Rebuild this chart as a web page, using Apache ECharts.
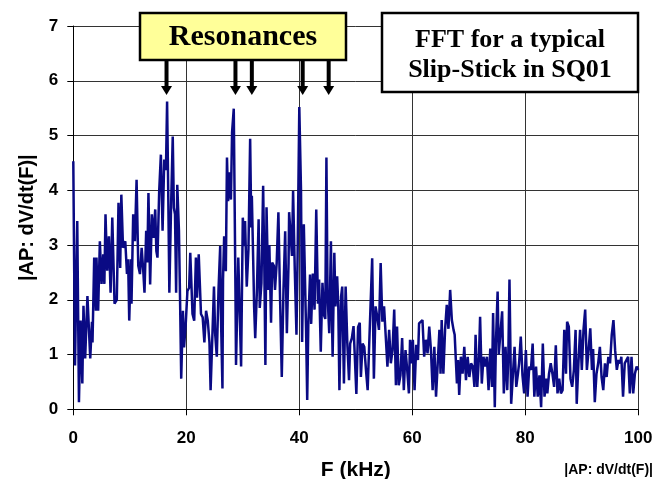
<!DOCTYPE html>
<html>
<head>
<meta charset="utf-8">
<script src="https://cdn.jsdelivr.net/npm/echarts@6/dist/echarts.min.js"></script>
<style>
  html, body { margin: 0; padding: 0; background: #fff; }
  #chart { width: 663px; height: 479px; }
</style>
</head>
<body>
<div id="chart"></div>
<script>
// frequency (kHz) and spectrum amplitude
const freqs = [
  0.0, 0.3, 0.7, 1.0, 1.3, 1.6, 1.8, 2.1, 2.5, 3.0, 3.3, 3.4, 3.7, 4.0, 4.1, 4.4, 4.7, 5.0, 5.3, 5.5,
  5.7, 6.0, 6.3, 6.6, 6.9, 7.3, 7.7, 8.0, 8.3, 8.5, 8.8, 9.2, 9.5, 9.7, 9.9, 10.2, 10.3, 10.6, 10.9, 11.2,
  11.5, 11.8, 12.1, 12.4, 12.6, 12.9, 13.1, 13.3, 13.6, 13.9, 14.2, 14.5, 14.7, 14.9, 15.2, 15.5, 15.8, 16.1, 16.4, 16.6,
  16.8, 17.0, 17.3, 17.6, 17.8, 18.0, 18.2, 18.4, 18.7, 18.9, 19.1, 19.4, 19.6, 19.9, 20.2, 20.5, 20.7, 21.1, 21.4, 21.7,
  21.9, 22.2, 22.6, 22.9, 23.2, 23.5, 23.8, 24.1, 24.3, 24.9, 25.1, 25.4, 25.7, 26.0, 26.1, 26.4, 26.5, 26.7, 27.0, 27.2,
  27.4, 27.7, 27.9, 28.1, 28.4, 28.7, 28.8, 29.2, 29.5, 29.7, 30.0, 30.3, 30.4, 30.7, 31.0, 31.3, 31.5, 31.6, 31.9, 32.0,
  32.2, 32.5, 32.8, 33.0, 33.3, 33.6, 33.8, 34.0, 34.2, 34.5, 34.7, 35.0, 35.2, 35.5, 35.7, 36.0, 36.3, 36.6, 36.9, 37.2,
  37.5, 37.8, 38.1, 38.2, 38.7, 38.9, 39.2, 39.5, 39.7, 40.0, 40.3, 40.5, 40.8, 41.2, 41.4, 41.6, 41.9, 42.1, 42.4, 42.7,
  43.0, 43.3, 43.5, 43.8, 44.1, 44.4, 44.6, 44.8, 45.0, 45.3, 45.6, 45.7, 45.9, 46.2, 46.4, 46.7, 46.9, 47.1, 47.4, 47.6,
  47.9, 48.2, 48.5, 48.8, 49.0, 49.3, 49.6, 49.9, 50.1, 50.4, 50.7, 50.9, 51.2, 51.5, 51.8, 52.1, 52.4, 52.7, 52.9, 53.2,
  53.5, 53.8, 54.1, 54.4, 54.7, 55.0, 55.3, 55.6, 55.9, 56.2, 56.5, 56.8, 57.1, 57.3, 57.6, 57.9, 58.2, 58.5, 58.8, 59.1,
  59.4, 59.6, 59.8, 60.1, 60.4, 60.7, 61.0, 61.2, 61.5, 61.8, 62.1, 62.4, 62.7, 63.0, 63.3, 63.6, 63.9, 64.2, 64.5, 64.8,
  65.0, 65.2, 65.5, 65.8, 66.1, 66.4, 66.7, 67.0, 67.3, 67.5, 67.9, 68.1, 68.3, 68.6, 68.9, 69.2, 69.5, 69.8, 70.1, 70.4,
  70.7, 71.0, 71.2, 71.5, 71.8, 72.0, 72.3, 72.6, 72.9, 73.2, 73.5, 73.8, 74.1, 74.3, 74.6, 74.8, 75.1, 75.3, 75.6, 75.9,
  76.2, 76.5, 76.8, 77.0, 77.2, 77.5, 77.8, 78.1, 78.4, 78.7, 78.9, 79.2, 79.5, 79.8, 80.1, 80.4, 80.7, 81.0, 81.3, 81.6,
  81.9, 82.2, 82.5, 82.8, 83.1, 83.4, 83.7, 83.9, 84.2, 84.5, 84.8, 85.1, 85.4, 85.7, 86.0, 86.3, 86.6, 86.9, 87.2, 87.4,
  87.7, 88.0, 88.3, 88.6, 88.9, 89.1, 89.4, 89.7, 90.0, 90.3, 90.6, 90.9, 91.2, 91.5, 91.8, 92.0, 92.3, 92.6, 92.9, 93.2,
  93.5, 93.8, 94.1, 94.4, 94.7, 95.0, 95.3, 95.6, 95.9, 96.2, 96.5, 96.8, 97.0, 97.3, 97.6, 97.9, 98.2, 98.5, 98.8, 99.1,
  99.4, 99.7, 100.0
];
const amps = [
  4.53, 0.80, 3.44, 0.13, 1.62, 0.47, 1.89, 0.93, 2.07, 0.93, 1.60, 1.22, 2.77, 1.80, 2.77, 1.80, 3.07, 2.29, 2.83, 2.29,
  3.56, 2.53, 3.16, 2.13, 3.50, 1.93, 2.00, 3.77, 2.58, 3.92, 2.95, 3.07, 2.47, 2.74, 1.62, 2.74, 1.93, 3.56, 3.07, 4.19,
  2.62, 2.47, 2.95, 2.50, 2.13, 3.26, 2.68, 3.95, 2.28, 3.56, 3.13, 3.65, 2.89, 2.77, 3.98, 4.65, 3.26, 4.56, 4.37, 5.62,
  3.98, 2.13, 3.68, 4.98, 3.68, 3.56, 2.13, 4.10, 3.26, 1.98, 0.56, 1.80, 1.13, 1.56, 2.16, 2.22, 2.86, 1.74, 1.62, 2.77,
  2.04, 2.83, 1.74, 1.68, 1.22, 1.80, 1.62, 1.22, 0.35, 2.24, 1.39, 0.96, 2.18, 2.98, 1.88, 0.38, 2.37, 3.16, 2.52, 4.60,
  3.80, 4.33, 3.83, 5.06, 5.49, 2.18, 0.81, 2.77, 1.58, 0.78, 3.50, 2.98, 3.44, 2.24, 2.92, 4.94, 3.32, 3.90, 2.43, 1.88,
  1.30, 2.18, 3.47, 1.85, 2.31, 4.08, 2.68, 0.81, 3.69, 2.18, 3.00, 1.58, 2.68, 2.62, 2.18, 2.68, 3.60, 2.00, 0.59, 2.18,
  3.25, 1.39, 2.68, 3.60, 2.80, 3.99, 2.55, 1.36, 2.80, 5.52, 4.02, 1.23, 3.38, 1.45, 0.17, 1.58, 2.46, 1.56, 2.48, 1.82,
  3.65, 1.93, 2.37, 1.05, 2.31, 1.71, 1.65, 4.60, 2.09, 1.39, 3.07, 2.10, 0.96, 2.86, 1.88, 2.43, 1.88, 0.35, 2.06, 2.24,
  0.47, 2.24, 1.20, 0.53, 1.20, 1.30, 1.52, 1.55, 0.28, 1.50, 1.58, 0.59, 1.20, 1.14, 0.72, 0.35, 1.27, 1.30, 2.76, 0.56,
  1.88, 1.69, 1.45, 2.67, 1.60, 1.88, 1.33, 0.78, 1.45, 0.84, 1.08, 1.82, 0.44, 1.51, 0.44, 0.62, 1.30, 0.35, 1.08, 0.72,
  0.29, 1.27, 0.84, 1.27, 0.35, 1.18, 0.90, 1.57, 1.60, 1.63, 0.96, 1.27, 1.02, 1.51, 1.08, 0.35, 1.14, 0.23, 0.84, 1.45,
  0.65, 1.63, 0.65, 1.45, 1.91, 1.47, 2.18, 1.63, 1.45, 1.36, 0.47, 0.90, 0.26, 0.96, 0.65, 1.14, 0.53, 0.96, 0.59, 0.84,
  0.78, 0.41, 1.36, 0.41, 0.96, 1.69, 0.47, 0.96, 0.78, 0.96, 0.35, 1.11, 0.41, 1.76, 0.04, 1.20, 2.15, 1.00, 1.02, 1.79,
  0.29, 1.14, 0.35, 1.00, 2.37, 0.10, 0.62, 1.14, 0.41, 0.65, 0.84, 1.33, 0.62, 0.29, 1.08, 0.23, 0.78, 0.72, 1.20, 0.23,
  0.78, 0.23, 0.62, 0.04, 1.20, 0.23, 0.56, 0.29, 0.65, 0.84, 0.65, 0.41, 1.17, 0.29, 0.56, 0.29, 0.35, 1.45, 0.65, 1.60,
  1.51, 0.56, 0.41, 0.72, 1.45, 0.10, 0.84, 1.45, 0.72, 1.45, 1.82, 0.72, 1.08, 1.48, 0.72, 1.10, 0.13, 0.65, 0.84, 1.14,
  0.59, 0.35, 0.84, 0.59, 0.96, 0.84, 1.36, 1.63, 1.08, 0.72, 0.90, 0.84, 0.96, 0.23, 0.84, 0.90, 0.96, 0.29, 0.96, 0.29,
  0.65, 0.78, 0.72
];
// resonance peaks pointed at by the arrows (kHz)
const resonances = [16.5, 28.7, 31.6, 40.6, 45.2];

const chart = echarts.init(document.getElementById('chart'));

const labelFont = { fontFamily: 'Liberation Sans', fontWeight: 'bold', color: '#000' };

chart.setOption({
  animation: false,
  grid: { left: 73.3, right: 24.7, top: 26, bottom: 69.7, outerBoundsMode: 'none', containLabel: false },
  xAxis: {
    type: 'value', min: 0, max: 100, interval: 20,
    name: 'F (kHz)', nameLocation: 'middle', nameGap: 50,
    nameTextStyle: { ...labelFont, fontSize: 21 },
    axisLine: { lineStyle: { color: '#000', width: 1 } },
    axisTick: { length: 6, lineStyle: { color: '#000' } },
    axisLabel: { ...labelFont, fontSize: 17, margin: 21 },
    splitLine: { lineStyle: { color: '#333', width: 1 } }
  },
  yAxis: {
    type: 'value', min: 0, max: 7, interval: 1,
    name: '|AP: dV/dt(F)|', nameLocation: 'middle', nameGap: 35,
    nameTextStyle: { ...labelFont, fontSize: 20 },
    axisLine: { show: true, lineStyle: { color: '#000', width: 1 } },
    axisTick: { show: true, length: 6, lineStyle: { color: '#000' } },
    axisLabel: { ...labelFont, fontSize: 17, margin: 15 },
    splitLine: { lineStyle: { color: '#333', width: 1 } }
  },
  series: [{
    type: 'line',
    data: freqs.map((f, i) => [f, amps[i]]),
    showSymbol: false,
    lineStyle: { color: '#0a0a84', width: 2.5 }
  }]
});

// annotation boxes and arrows
const graphic = [];
resonances.forEach(r => {
  const x = chart.convertToPixel({ xAxisIndex: 0 }, r);
  graphic.push({ type: 'rect', z: 100, shape: { x: x - 2, y: 60, width: 4, height: 27 }, style: { fill: '#000' } });
  graphic.push({ type: 'polygon', z: 100, shape: { points: [[x - 5.5, 86], [x + 5.5, 86], [x, 95]] }, style: { fill: '#000' } });
});
graphic.push(
  { type: 'rect', z: 101, shape: { x: 140, y: 13, width: 206, height: 47 },
    style: { fill: '#ffff99', stroke: '#000', lineWidth: 2.5 } },
  { type: 'text', z: 102, x: 243, y: 37,
    style: { text: 'Resonances', font: 'bold 30px "Liberation Serif"', fill: '#000', align: 'center', verticalAlign: 'middle' } },
  { type: 'rect', z: 101, shape: { x: 382, y: 13, width: 256, height: 79 },
    style: { fill: '#fff', stroke: '#000', lineWidth: 2.5 } },
  { type: 'text', z: 102, x: 510, y: 40,
    style: { text: 'FFT for a typical', font: 'bold 26px "Liberation Serif"', fill: '#000', align: 'center', verticalAlign: 'middle' } },
  { type: 'text', z: 102, x: 510, y: 70,
    style: { text: 'Slip-Stick in SQ01', font: 'bold 26px "Liberation Serif"', fill: '#000', align: 'center', verticalAlign: 'middle' } },
  { type: 'text', z: 102, x: 653, y: 470,
    style: { text: '|AP: dV/dt(F)|', font: 'bold 14px "Liberation Sans"', fill: '#000', align: 'right', verticalAlign: 'middle' } }
);
chart.setOption({ graphic: graphic });
</script>
</body>
</html>
